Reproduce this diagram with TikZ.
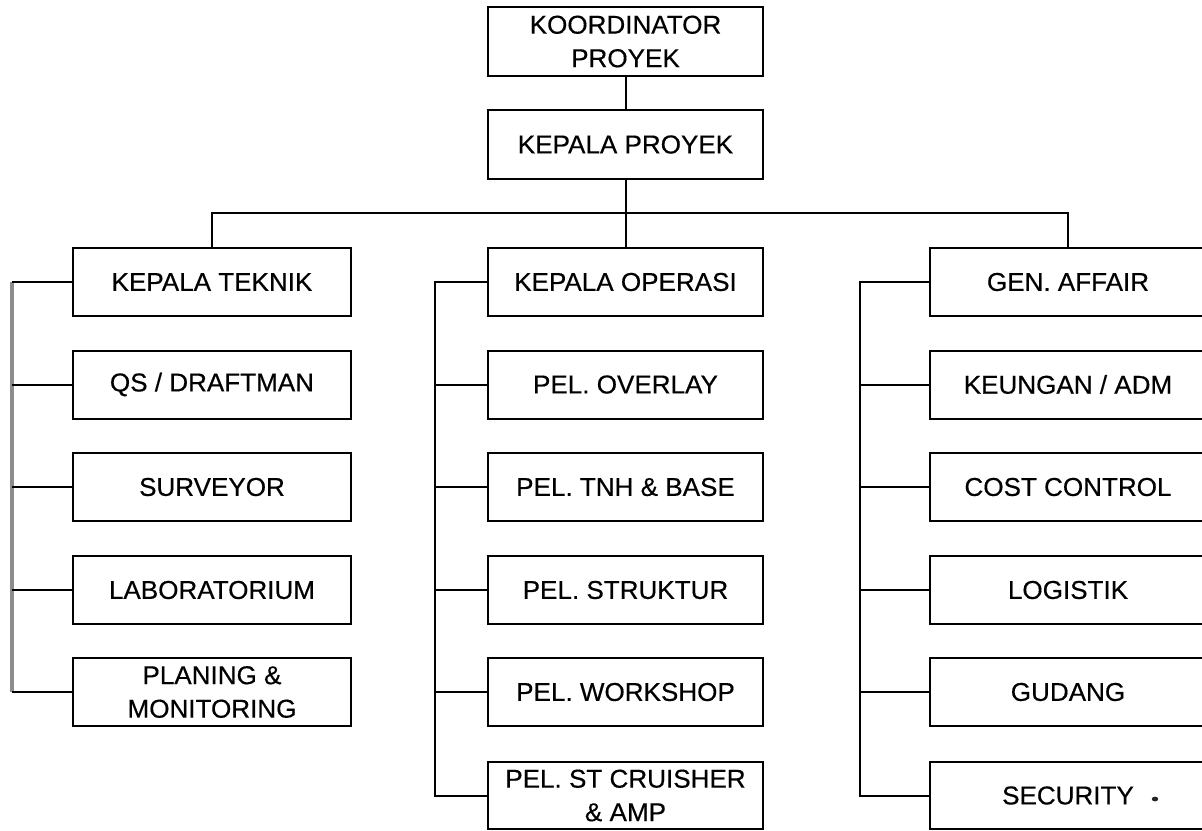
\documentclass[tikz,border=0pt]{standalone}
\usepackage{fontspec}
\setmainfont{Liberation Sans}[FakeStretch=1.01,FakeBold=0.4]
\begin{document}
\begin{tikzpicture}[x=1pt,y=-1pt,
  box/.style={draw=black,line width=2pt,fill=white,rectangle,inner sep=0pt,
    align=center,font=\fontsize{25.8}{33.5}\selectfont,text=black},
  w1/.style={minimum width=278pt},
  w2/.style={minimum width=275pt},
  w3/.style={minimum width=276pt},
  hh/.style={minimum height=68pt},
  wire/.style={draw=black,line width=2pt},
  greywire/.style={draw=black!45,line width=3.5pt}]
\clip (0,0) rectangle (1202,830);
\fill[white] (0,0) rectangle (1202,830);
% top
\node[box,w2,minimum height=69pt] (koor) at (625.5,41.5) {KOORDINATOR\\PROYEK};
\node[box,w2,minimum height=69pt] (kp) at (625.5,144.5) {KEPALA PROYEK};
% column 1
\node[box,w1,hh] (kt)  at (212,282) {KEPALA TEKNIK};
\node[box,w1,hh] (qs)  at (212,384.5) {QS / DRAFTMAN};
\node[box,w1,hh] (sv)  at (212,487) {SURVEYOR};
\node[box,w1,hh] (lab) at (212,590) {LABORATORIUM};
\node[box,w1,hh] (pm)  at (212,692) {PLANING \&\\MONITORING};
% column 2
\node[box,w2,hh] (ko) at (625.5,282) {KEPALA OPERASI};
\node[box,w2,hh] (ov) at (625.5,384.5) {PEL. OVERLAY};
\node[box,w2,hh] (tb) at (625.5,487) {PEL. TNH \& BASE};
\node[box,w2,hh] (st) at (625.5,590) {PEL. STRUKTUR};
\node[box,w2,hh] (ws) at (625.5,692) {PEL. WORKSHOP};
\node[box,w2,minimum height=67pt] (cr) at (625.5,795.5) {PEL. ST CRUISHER\\\& AMP};
% column 3
\node[box,w3,hh] (ga) at (1068,282) {GEN. AFFAIR};
\node[box,w3,hh] (ku) at (1068,384.5) {KEUNGAN / ADM};
\node[box,w3,hh] (cc) at (1068,487) {COST CONTROL};
\node[box,w3,hh] (lg) at (1068,590) {LOGISTIK};
\node[box,w3,hh] (gd) at (1068,692) {GUDANG};
\node[box,w3,minimum height=67pt] (sc) at (1068,795.5) {SECURITY};
\fill[black!85] (1155,799) ellipse (3.2pt and 2.4pt);
% top connectors
\coordinate (busL) at (212,213);
\coordinate (busR) at (1068,213);
\draw[wire] (koor.south) -- (kp.north);
\draw[wire] (kp.south) -- (ko.north);
\draw[wire] (kt.north) -- (busL) -- (busR) -- (ga.north);
% column 1 branch
\coordinate (c1t) at (12,282);
\coordinate (c1b) at (12,692);
\draw[greywire] (c1t) -- (c1b);
\foreach \n in {kt,qs,sv,lab,pm}{
  \draw[wire] (\n.west) -- (c1t |- \n.west);
}
% column 2 branch
\coordinate (c2t) at (435,282);
\coordinate (c2b) at (435,795.5);
\draw[wire,line cap=rect] (c2t) -- (c2b);
\foreach \n in {ko,ov,tb,st,ws,cr}{
  \draw[wire] (\n.west) -- (c2t |- \n.west);
}
% column 3 branch
\coordinate (c3t) at (860,282);
\coordinate (c3b) at (860,795.5);
\draw[wire,line cap=rect] (c3t) -- (c3b);
\foreach \n in {ga,ku,cc,lg,gd,sc}{
  \draw[wire] (\n.west) -- (c3t |- \n.west);
}
\end{tikzpicture}
\end{document}
